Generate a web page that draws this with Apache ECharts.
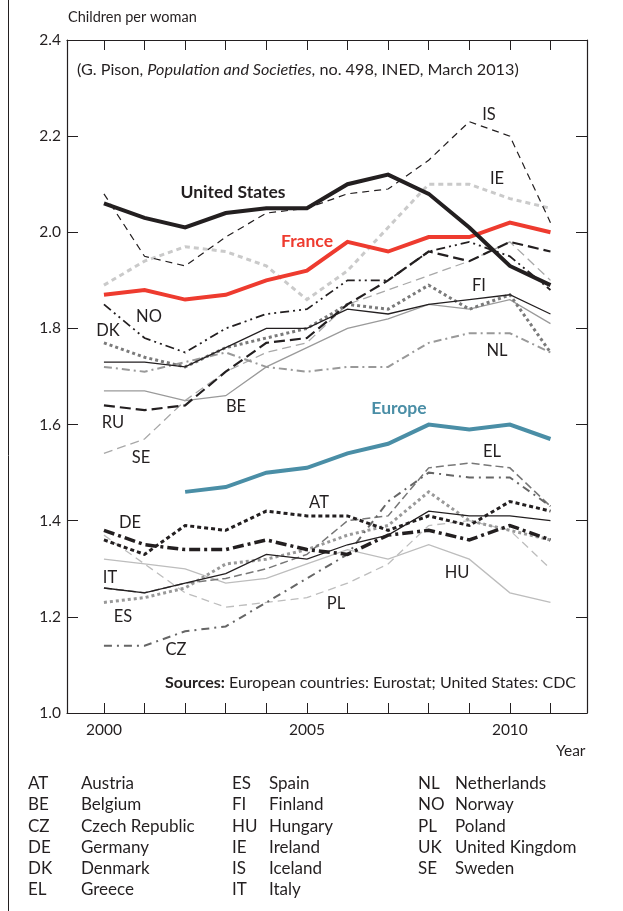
<!DOCTYPE html>
<html>
<head>
<meta charset="utf-8">
<script src="https://cdn.jsdelivr.net/npm/echarts@6/dist/echarts.min.js"></script>
<style>
  html, body { margin: 0; padding: 0; background: #fff; }
  #chart { width: 623px; height: 911px; }
</style>
</head>
<body>
<div id="chart"></div>
<script>
// total fertility rate, children per woman
const years = [2000, 2001, 2002, 2003, 2004, 2005, 2006, 2007, 2008, 2009, 2010, 2011]
const yearLabels = [2000, 2005, 2010]

const unitedStates = [2.06, 2.03, 2.01, 2.04, 2.05, 2.05, 2.10, 2.12, 2.08, 2.01, 1.93, 1.89]
const france = [1.87, 1.88, 1.86, 1.87, 1.90, 1.92, 1.98, 1.96, 1.99, 1.99, 2.02, 2.00]
const europe = [null, null, 1.46, 1.47, 1.50, 1.51, 1.54, 1.56, 1.60, 1.59, 1.60, 1.57]
const iceland = [2.08, 1.95, 1.93, 1.99, 2.04, 2.05, 2.08, 2.09, 2.15, 2.23, 2.20, 2.02]
const ireland = [1.89, 1.94, 1.97, 1.96, 1.93, 1.86, 1.92, 2.01, 2.10, 2.10, 2.07, 2.05]
const norway = [1.85, 1.78, 1.75, 1.80, 1.83, 1.84, 1.90, 1.90, 1.96, 1.98, 1.95, 1.88]
const unitedKingdom = [1.64, 1.63, 1.64, 1.71, 1.77, 1.78, 1.85, 1.90, 1.96, 1.94, 1.98, 1.96]
const denmark = [1.77, 1.74, 1.72, 1.76, 1.78, 1.80, 1.85, 1.84, 1.89, 1.84, 1.87, 1.75]
const finland = [1.73, 1.73, 1.72, 1.76, 1.80, 1.80, 1.84, 1.83, 1.85, 1.86, 1.87, 1.83]
const netherlands = [1.72, 1.71, 1.73, 1.75, 1.72, 1.71, 1.72, 1.72, 1.77, 1.79, 1.79, 1.75]
const belgium = [1.67, 1.67, 1.65, 1.66, 1.72, 1.76, 1.80, 1.82, 1.85, 1.84, 1.86, 1.81]
const sweden = [1.54, 1.57, 1.65, 1.71, 1.75, 1.77, 1.85, 1.88, 1.91, 1.94, 1.98, 1.90]
const austria = [1.36, 1.33, 1.39, 1.38, 1.42, 1.41, 1.41, 1.38, 1.41, 1.39, 1.44, 1.42]
const germany = [1.38, 1.35, 1.34, 1.34, 1.36, 1.34, 1.33, 1.37, 1.38, 1.36, 1.39, 1.36]
const italy = [1.26, 1.25, 1.27, 1.29, 1.33, 1.32, 1.35, 1.37, 1.42, 1.41, 1.41, 1.40]
const spain = [1.23, 1.24, 1.26, 1.31, 1.32, 1.34, 1.37, 1.39, 1.46, 1.40, 1.38, 1.36]
const greece = [1.26, 1.25, 1.27, 1.28, 1.30, 1.33, 1.40, 1.41, 1.51, 1.52, 1.51, 1.43]
const czechRepublic = [1.14, 1.14, 1.17, 1.18, 1.23, 1.28, 1.33, 1.44, 1.50, 1.49, 1.49, 1.43]
const poland = [1.37, 1.31, 1.25, 1.22, 1.23, 1.24, 1.27, 1.31, 1.39, 1.40, 1.38, 1.30]
const hungary = [1.32, 1.31, 1.30, 1.27, 1.28, 1.31, 1.34, 1.32, 1.35, 1.32, 1.25, 1.23]

const legendCodes = [
  ['AT', 'Austria'], ['BE', 'Belgium'], ['CZ', 'Czech Republic'], ['DE', 'Germany'], ['DK', 'Denmark'], ['EL', 'Greece'],
  ['ES', 'Spain'], ['FI', 'Finland'], ['HU', 'Hungary'], ['IE', 'Ireland'], ['IS', 'Iceland'], ['IT', 'Italy'],
  ['NL', 'Netherlands'], ['NO', 'Norway'], ['PL', 'Poland'], ['UK', 'United Kingdom'], ['SE', 'Sweden']
]

const FONT = 'Lato, "Open Sans", sans-serif'
const INK = '#231f20'

const line = (name, values, color, width, dash, z) => ({
  name: name,
  type: 'line',
  data: years.map((y, i) => [y, values[i]]),
  symbol: 'none',
  connectNulls: false,
  z: z || 2,
  silent: true,
  lineStyle: { color: color, width: width, type: dash || 'solid', cap: 'butt', join: 'miter' }
})

const series = [
  line('HU', hungary, '#bdbdbd', 1.3),
  line('PL', poland, '#bdbdbd', 1.3, [8, 5]),
  line('BE', belgium, '#9a9a9a', 1.3),
  line('SE', sweden, '#a8a8a8', 1.3, [9, 5]),
  line('IE', ireland, '#cacaca', 3, [5, 4]),
  line('NL', netherlands, '#999999', 2, [8, 4, 2, 4]),
  line('DK', denmark, '#7a7a7a', 3, [3, 3]),
  line('ES', spain, '#999999', 3, [3, 3]),
  line('EL', greece, '#777777', 1.5, [8, 4]),
  line('CZ', czechRepublic, '#666666', 2, [8, 5, 2, 5]),
  line('FI', finland, INK, 1.3),
  line('IT', italy, INK, 1.3),
  line('IS', iceland, INK, 1.2, [7, 5]),
  line('NO', norway, INK, 1.8, [9, 4, 2, 4, 2, 4]),
  line('UK', unitedKingdom, INK, 2.2, [11, 5]),
  line('AT', austria, INK, 3, [4, 3]),
  line('DE', germany, INK, 3.5, [11, 4, 3, 4]),
  line('Europe', europe, '#4a8ea6', 4, 'solid', 5),
  line('France', france, '#ee3b2f', 4, 'solid', 5),
  line('United States', unitedStates, INK, 4, 'solid', 6)
]

const seriesLabels = [
  ['IS', 489, 115], ['IE', 497, 179], ['FI', 479, 286], ['NO', 149, 317], ['DK', 108, 331],
  ['NL', 497, 351], ['BE', 236, 407], ['RU', 113, 423], ['SE', 141, 458], ['EL', 492, 452],
  ['AT', 319, 503], ['DE', 130, 523], ['IT', 110, 578], ['HU', 457, 573], ['ES', 123, 617],
  ['PL', 336, 604], ['CZ', 176, 650]
]

const graphics = []
graphics.push({
  type: 'line', silent: true,
  shape: { x1: 8.5, y1: 0, x2: 8.5, y2: 911 },
  style: { stroke: INK, lineWidth: 1 }
})
seriesLabels.forEach(([t, x, y]) => {
  graphics.push({
    type: 'text', x: x, y: y, z: 10,
    style: { text: t, font: '16.5px ' + FONT, fill: INK, textAlign: 'center', textVerticalAlign: 'middle' }
  })
})
const bold = [['United States', 233, 192, INK], ['France', 307, 241, '#ee3b2f'], ['Europe', 399, 408, '#4a8ea6']]
bold.forEach(([t, x, y, c]) => {
  graphics.push({
    type: 'text', x: x, y: y, z: 10,
    style: { text: t, font: 'bold 17.5px ' + FONT, fill: c, textAlign: 'center', textVerticalAlign: 'middle' }
  })
})
// code list under the chart
const colX = [[28, 81], [232, 269], [418, 455]]
const rowY = [784, 805, 827, 848, 869, 890]
legendCodes.forEach(([code, nm], i) => {
  const col = Math.floor(i / 6), row = i % 6
  graphics.push({
    type: 'text', x: colX[col][0], y: rowY[row],
    style: { text: code, font: '17px ' + FONT, fill: INK, textVerticalAlign: 'middle' }
  })
  graphics.push({
    type: 'text', x: colX[col][1], y: rowY[row],
    style: { text: nm, font: '17px ' + FONT, fill: INK, textVerticalAlign: 'middle' }
  })
})

const options = {
  animation: false,
  backgroundColor: '#fff',
  textStyle: { fontFamily: FONT },
  title: [
    { text: 'Children per woman', left: 68, top: 10, padding: 0,
      textStyle: { fontSize: 14.5, fontWeight: 'normal', color: INK, fontFamily: FONT } },
    { text: '(G. Pison, {i|Population and Societies}, no. 498, INED, March 2013)', left: 77, top: 62, padding: 0,
      textStyle: { fontSize: 16.2, fontWeight: 'normal', color: INK, fontFamily: FONT,
        rich: { i: { fontStyle: 'italic', fontSize: 16.2, color: INK, fontFamily: FONT } } } },
    { text: '{b|Sources:} European countries: Eurostat; United States: CDC', right: 47, top: 675, padding: 0,
      textStyle: { fontSize: 16, fontWeight: 'normal', color: INK, fontFamily: FONT,
        rich: { b: { fontWeight: 'bold', fontSize: 16, color: INK, fontFamily: FONT } } } },
    { text: 'Year', left: 556, top: 743, padding: 0,
      textStyle: { fontSize: 15.5, fontWeight: 'normal', color: INK, fontFamily: FONT } }
  ],
  grid: { left: 67, top: 40, right: 36, bottom: 198, containLabel: false },
  xAxis: [
    {
      type: 'value', position: 'bottom', min: 1999.09, max: 2011.9,
      axisLine: { show: true, lineStyle: { color: INK, width: 1.2 } },
      axisTick: { show: true, inside: true, length: 10, customValues: years, lineStyle: { color: INK } },
      axisLabel: { customValues: yearLabels, margin: 9, fontSize: 15.5, color: INK, fontFamily: FONT,
        formatter: (v) => String(v) },
      splitLine: { show: false }
    },
    {
      type: 'value', position: 'top', min: 1999.09, max: 2011.9,
      axisLine: { show: true, lineStyle: { color: INK, width: 1.2 } },
      axisTick: { show: true, inside: true, length: 10, customValues: years, lineStyle: { color: INK } },
      axisLabel: { show: false },
      splitLine: { show: false }
    }
  ],
  yAxis: [
    {
      type: 'value', position: 'left', min: 1.0, max: 2.4, interval: 0.2,
      axisLine: { show: true, lineStyle: { color: INK, width: 1.2 } },
      axisTick: { show: true, inside: true, length: 11, lineStyle: { color: INK } },
      axisLabel: { margin: 6, fontSize: 15.5, color: INK, fontFamily: FONT, formatter: (v) => v.toFixed(1) },
      splitLine: { show: false }
    },
    {
      type: 'value', position: 'right', min: 1.0, max: 2.4, interval: 0.2,
      axisLine: { show: true, lineStyle: { color: INK, width: 1.2 } },
      axisTick: { show: true, inside: true, length: 11, lineStyle: { color: INK } },
      axisLabel: { show: false },
      splitLine: { show: false }
    }
  ],
  series: series,
  graphic: graphics
}

const chart = echarts.init(document.getElementById('chart'), null, { renderer: 'canvas' })
chart.setOption(options)
</script>
</body>
</html>
